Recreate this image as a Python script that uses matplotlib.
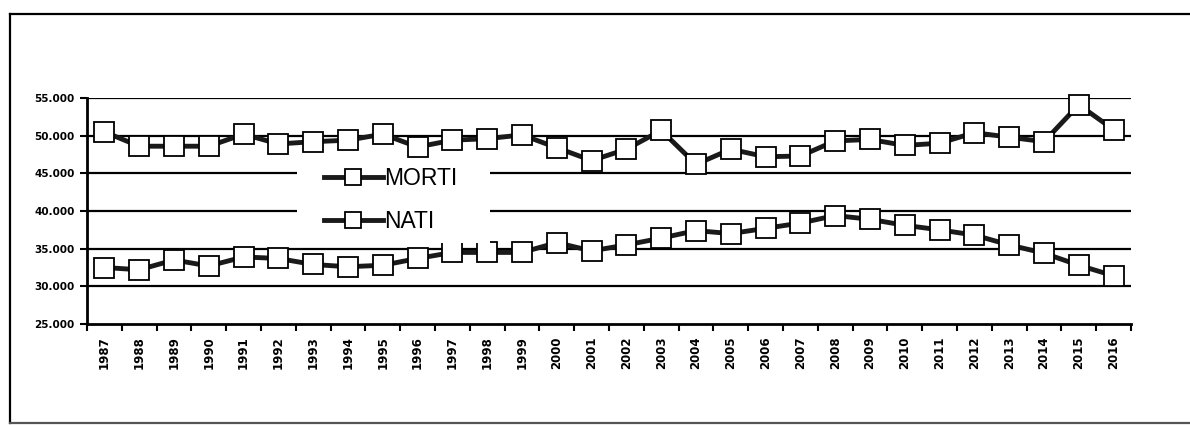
import matplotlib
matplotlib.use("Agg")
import matplotlib.pyplot as plt
from matplotlib.lines import Line2D
from matplotlib.patches import Rectangle
from matplotlib.ticker import FuncFormatter, FixedLocator

# ── Dati ─────────────────────────────────────────────────────────────────
anni = [str(a) for a in range(1987, 2017)]
morti = [50500, 48600, 48600, 48600, 50200, 48900, 49200, 49400, 50200, 48500,
         49400, 49600, 50100, 48400, 46700, 48200, 50700, 46200, 48200, 47200,
         47300, 49300, 49500, 48700, 49000, 50400, 49800, 49200, 54100, 50800]
nati = [32500, 32200, 33500, 32700, 33900, 33700, 32900, 32600, 32800, 33700,
        34500, 34500, 34500, 35800, 34700, 35500, 36400, 37400, 37000, 37700,
        38400, 39400, 38900, 38100, 37500, 36800, 35500, 34400, 32800, 31400]
y_ticks = [25000, 30000, 35000, 40000, 45000, 50000, 55000]

# ── Figura ───────────────────────────────────────────────────────────────
fig = plt.figure(figsize=(11.9, 4.25), dpi=100)
ax = fig.add_axes([87 / 1190, 1 - 324 / 425, (1131 - 87) / 1190, (324 - 98) / 425])

x = list(range(len(anni)))
stile = dict(color="#1a1a1a", lw=3.5, marker="s", markersize=14.5,
             markerfacecolor="white", markeredgecolor="black", markeredgewidth=1.3,
             clip_on=False)
ax.plot(x, morti, label="MORTI", zorder=3, **stile)
ax.plot(x, nati, label="NATI", zorder=3, **stile)

for v in y_ticks[1:]:
    ax.axhline(v, color="black", lw=1.6, zorder=1)

ax.set_xlim(-0.5, len(anni) - 0.5)
ax.set_ylim(25000, 55000)
ax.set_yticks(y_ticks)
ax.yaxis.set_major_formatter(FuncFormatter(lambda v, p: f"{v:,.0f}".replace(",", ".")))
ax.set_xticks(x)
ax.set_xticklabels(anni, rotation=90, fontsize=8.5, fontweight="bold")
ax.xaxis.set_minor_locator(FixedLocator([i - 0.5 for i in range(len(anni) + 1)]))
ax.tick_params(axis="x", which="major", length=0, pad=9)
ax.tick_params(axis="x", which="minor", length=5, width=1.5, direction="out")
ax.tick_params(axis="y", length=5, width=1.5, direction="out", pad=4)
for lab in ax.get_yticklabels():
    lab.set_fontsize(7.5)
    lab.set_fontweight("bold")

for s in ["top", "right"]:
    ax.spines[s].set_visible(False)
for s in ["left", "bottom"]:
    ax.spines[s].set_linewidth(2)

# riquadro bianco della legenda
ax.add_patch(Rectangle((297 / 1190, 1 - 243 / 425), (490 - 297) / 1190, (243 - 158) / 425,
                       transform=fig.transFigure, facecolor="white", edgecolor="none",
                       zorder=4, clip_on=False))
leg = ax.legend(loc="center left", bbox_to_anchor=(303 / 1190, 1 - 200 / 425),
                bbox_transform=fig.transFigure, frameon=False,
                prop={"family": "Liberation Sans", "size": 16.5},
                handlelength=2.6, handletextpad=0.05, labelspacing=0.85,
                markerscale=0.8)
leg.set_zorder(5)

# cornice esterna
for xs, ys, c in [([10, 10], [14, 423], "black"),
                  ([10, 1190], [14, 14], "black"),
                  ([10, 1190], [423, 423], "#555555")]:
    fig.add_artist(Line2D([v / 1190 for v in xs], [1 - v / 425 for v in ys],
                          color=c, lw=1.6))

fig.savefig("out.png", dpi=100)
